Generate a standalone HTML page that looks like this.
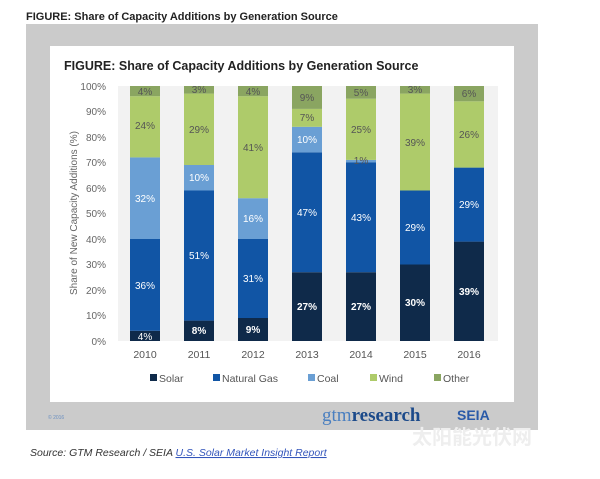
<!DOCTYPE html><html><head><style>body{margin:0;background:#fff;width:600px;height:474px;overflow:hidden}</style></head><body>
<svg width="600" height="474" xmlns="http://www.w3.org/2000/svg" font-family="Liberation Sans, sans-serif">
<text x="26" y="20" font-size="11" font-weight="bold" fill="#222">FIGURE: Share of Capacity Additions by Generation Source</text>
<rect x="26" y="24" width="512" height="406" fill="#cbcbcb"/>
<rect x="50" y="46" width="464" height="356" fill="#fff"/>
<text x="64" y="70" font-size="12.5" font-weight="bold" fill="#222">FIGURE: Share of Capacity Additions by Generation Source</text>
<rect x="118" y="86" width="380" height="255" fill="#f2f2f2"/>
<g font-size="10" fill="#666" text-anchor="end">
<text x="106" y="90">100%</text><text x="106" y="115">90%</text><text x="106" y="141">80%</text><text x="106" y="166">70%</text><text x="106" y="192">60%</text><text x="106" y="217">50%</text><text x="106" y="243">40%</text><text x="106" y="268">30%</text><text x="106" y="294">20%</text><text x="106" y="319">10%</text><text x="106" y="345">0%</text>
</g>
<text transform="translate(77,213) rotate(-90)" font-size="10" fill="#666" text-anchor="middle">Share of New Capacity Additions (%)</text>
<g>
<g transform="translate(130,0)"><rect y="330.8" width="30" height="10.2" fill="#0f2a4a"/><rect y="239" width="30" height="91.8" fill="#1155a5"/><rect y="157.4" width="30" height="81.6" fill="#6a9fd4"/><rect y="96.2" width="30" height="61.2" fill="#aecb6a"/><rect y="86" width="30" height="10.2" fill="#8aa561"/></g>
<g transform="translate(184,0)"><rect y="320.6" width="30" height="20.4" fill="#0f2a4a"/><rect y="190.5" width="30" height="130.1" fill="#1155a5"/><rect y="165" width="30" height="25.5" fill="#6a9fd4"/><rect y="93.6" width="30" height="71.4" fill="#aecb6a"/><rect y="86" width="30" height="7.6" fill="#8aa561"/></g>
<g transform="translate(238,0)"><rect y="318" width="30" height="23" fill="#0f2a4a"/><rect y="239" width="30" height="79" fill="#1155a5"/><rect y="198.2" width="30" height="40.8" fill="#6a9fd4"/><rect y="96.2" width="30" height="102" fill="#aecb6a"/><rect y="86" width="30" height="10.2" fill="#8aa561"/></g>
<g transform="translate(292,0)"><rect y="272.2" width="30" height="68.8" fill="#0f2a4a"/><rect y="152.3" width="30" height="119.9" fill="#1155a5"/><rect y="126.8" width="30" height="25.5" fill="#6a9fd4"/><rect y="108.9" width="30" height="17.9" fill="#aecb6a"/><rect y="86" width="30" height="22.9" fill="#8aa561"/></g>
<g transform="translate(346,0)"><rect y="272.2" width="30" height="68.8" fill="#0f2a4a"/><rect y="162.5" width="30" height="109.7" fill="#1155a5"/><rect y="159.9" width="30" height="2.6" fill="#6a9fd4"/><rect y="98.7" width="30" height="61.2" fill="#aecb6a"/><rect y="86" width="30" height="12.7" fill="#8aa561"/></g>
<g transform="translate(400,0)"><rect y="264.5" width="30" height="76.5" fill="#0f2a4a"/><rect y="190.5" width="30" height="74" fill="#1155a5"/><rect y="93.6" width="30" height="96.9" fill="#aecb6a"/><rect y="86" width="30" height="7.6" fill="#8aa561"/></g>
<g transform="translate(454,0)"><rect y="241.6" width="30" height="99.4" fill="#0f2a4a"/><rect y="167.6" width="30" height="74" fill="#1155a5"/><rect y="101.3" width="30" height="66.3" fill="#aecb6a"/><rect y="86" width="30" height="15.3" fill="#8aa561"/></g>
</g>
<g font-size="10" text-anchor="middle" fill="#555">
<text x="145" y="95">4%</text><text x="145" y="129">24%</text><text x="145" y="202" fill="#fff">32%</text><text x="145" y="289" fill="#fff">36%</text><text x="145" y="340" fill="#fff">4%</text>
<text x="199" y="93">3%</text><text x="199" y="133">29%</text><text x="199" y="181" fill="#fff">10%</text><text x="199" y="259" fill="#fff">51%</text><text x="199" y="334" fill="#fff" font-weight="bold">8%</text>
<text x="253" y="95">4%</text><text x="253" y="151">41%</text><text x="253" y="222" fill="#fff">16%</text><text x="253" y="282" fill="#fff">31%</text><text x="253" y="333" fill="#fff" font-weight="bold">9%</text>
<text x="307" y="101">9%</text><text x="307" y="121">7%</text><text x="307" y="143" fill="#fff">10%</text><text x="307" y="216" fill="#fff">47%</text><text x="307" y="310" fill="#fff" font-weight="bold">27%</text>
<text x="361" y="96">5%</text><text x="361" y="133">25%</text><text x="361" y="164">1%</text><text x="361" y="221" fill="#fff">43%</text><text x="361" y="310" fill="#fff" font-weight="bold">27%</text>
<text x="415" y="93">3%</text><text x="415" y="146">39%</text><text x="415" y="231" fill="#fff">29%</text><text x="415" y="306" fill="#fff" font-weight="bold">30%</text>
<text x="469" y="97">6%</text><text x="469" y="138">26%</text><text x="469" y="208" fill="#fff">29%</text><text x="469" y="295" fill="#fff" font-weight="bold">39%</text>
</g>
<g font-size="10.5" text-anchor="middle" fill="#555">
<text x="145" y="358">2010</text><text x="199" y="358">2011</text><text x="253" y="358">2012</text><text x="307" y="358">2013</text><text x="361" y="358">2014</text><text x="415" y="358">2015</text><text x="469" y="358">2016</text>
</g>
<g font-size="10.5" fill="#555">
<rect x="150" y="374" width="7" height="7" fill="#0f2a4a"/><text x="159" y="382">Solar</text>
<rect x="213" y="374" width="7" height="7" fill="#1155a5"/><text x="222" y="382">Natural Gas</text>
<rect x="308" y="374" width="7" height="7" fill="#6a9fd4"/><text x="317" y="382">Coal</text>
<rect x="370" y="374" width="7" height="7" fill="#aecb6a"/><text x="379" y="382">Wind</text>
<rect x="434" y="374" width="7" height="7" fill="#8aa561"/><text x="443" y="382">Other</text>
</g>
<text x="48" y="419" font-size="5" fill="#6a8fc0">© 2016</text>
<text x="322" y="421" font-size="19" fill="#4a7fc0" font-family="Liberation Serif, serif">gtm<tspan fill="#1c4a8a" font-weight="bold">research</tspan></text>
<text x="457" y="420" font-size="14" font-weight="bold" fill="#2a5aa8">SEIA</text>
<text x="30" y="456" font-size="10.5" font-style="italic" fill="#333">Source: GTM Research / SEIA <tspan fill="#3355bb" text-decoration="underline">U.S. Solar Market Insight Report</tspan></text>
<text x="412" y="444" font-size="20" font-weight="bold" fill="#eeeeee" font-family="Liberation Sans, Noto Sans CJK SC, sans-serif">太阳能光伏网</text>
</svg>
</body></html>
